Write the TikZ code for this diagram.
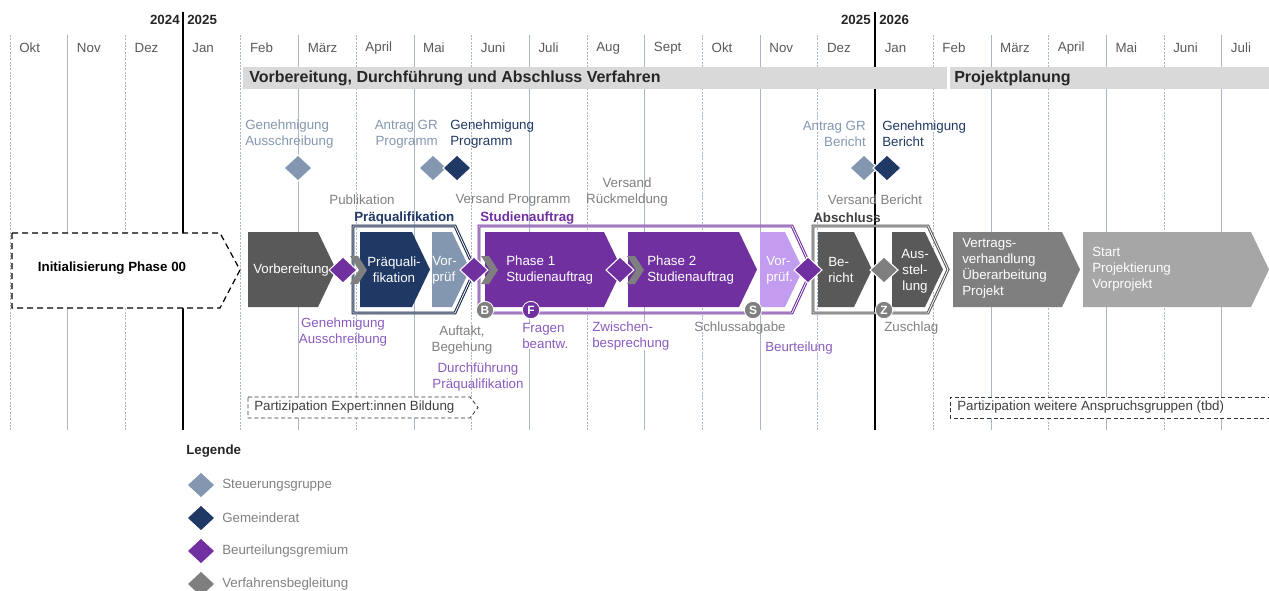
\documentclass[tikz,border=0pt]{standalone}
\usepackage{fontspec}
\setmainfont{Liberation Sans}
\usetikzlibrary{calc}
\definecolor{cgrid}{HTML}{A9B5C8}
\definecolor{cmonth}{HTML}{595959}
\definecolor{cbar}{HTML}{D9D9D9}
\definecolor{ctitle}{HTML}{262626}
\definecolor{csteel}{HTML}{8497B0}
\definecolor{cnavy}{HTML}{1F3864}
\definecolor{cpurple}{HTML}{7030A0}
\definecolor{clilac}{HTML}{C19CEF}
\definecolor{ctxtpurple}{HTML}{8A5BBE}
\definecolor{cdark}{HTML}{595959}
\definecolor{cmid}{HTML}{7F7F7F}
\definecolor{clight}{HTML}{A6A6A6}
\definecolor{cgraytxt}{HTML}{808080}
\def\monthw{57.7}
\tikzset{
  pics/phasebox/.style={
    code={%
      \fill (0,0) -- ({#1-18},0) -- (#1,37.5) -- ({#1-18},75) -- (0,75) -- cycle;
    }
  },
  pics/groupbox/.style={
    code={%
      \draw[line width=.8pt, double=white, double distance=.6pt]
        (0,0) -- ({#1-20},0) -- (#1,43.5) -- ({#1-20},87) -- (0,87) -- cycle;
    }
  },
  pics/gate/.style={
    code={%
      \filldraw[draw=white, line width=.8pt] (-14,0) -- (0,-13) -- (14,0) -- (0,13) -- cycle;
    }
  },
  pics/chevr/.style={
    code={%
      \fill (7,-14) -- (15,-14) -- (24,0) -- (15,14) -- (7,14) -- (16,0) -- cycle;
    }
  },
}

\begin{document}
\begin{tikzpicture}[
    x=0.75pt,y=-0.75pt,
    lbl/.style={font=\fontsize{10}{12}\selectfont, inner sep=0pt, align=left},
    hdr/.style={lbl, font=\fontsize{10}{12}\selectfont\bfseries},
    bighdr/.style={hdr, text=ctitle, anchor=west, font=\fontsize{12}{14}\selectfont\bfseries},
    blk/.style={lbl, text=white, anchor=west},
    month/.style={lbl, text=cmonth, anchor=west},
    gridline/.style={draw=cgrid, line width=.6pt},
    griddot/.style={gridline, line width=.5pt, dash pattern=on 1.5pt off 1pt},
    yearline/.style={draw=black, line width=2.2pt},
    badge/.style={circle, draw=white, line width=.6pt, inner sep=0pt, minimum size=13pt,
      text=white, font=\fontsize{9}{9}\selectfont\bfseries},
    partbox/.style={draw=black!80, fill=white, line width=.6pt, dash pattern=on 3pt off 2pt},
  ]
  \useasboundingbox (0,0) rectangle (1269,590);

  % month grid
  \foreach \m [count=\i from 0, evaluate=\i as \x using 10+\monthw*\i] in
    {Okt,Nov,Dez,Jan,Feb,März,April,Mai,Juni,Juli,Aug,Sept,Okt,Nov,Dez,Jan,Feb,März,April,Mai,Juni,Juli}{
    \ifodd\i
      \draw[gridline] (\x,35) -- (\x,430);
    \else
      \draw[griddot] (\x,35) -- (\x,430);
    \fi
    \node[month] (m\i) at (\x+9,48) {\m};
  }
  \draw[yearline] (183,12) -- (183,430);
  \draw[yearline] (875,12) -- (875,430);
  \node[hdr, text=ctitle, anchor=east] (y24) at (180,20) {2024};
  \node[hdr, text=ctitle, anchor=west] (y25) at (187,20) {2025};
  \node[hdr, text=ctitle, anchor=east] (y25b) at (871,20) {2025};
  \node[hdr, text=ctitle, anchor=west] (y26) at (879,20) {2026};

  % phase bars
  \fill[cbar] (243,67) rectangle (947,89);
  \fill[cbar] (950,67) rectangle (1269,89);
  \node[bighdr] (barA) at (249,78) {Vorbereitung, Durchführung und Abschluss Verfahren};
  \node[bighdr] (barB) at (954,78) {Projektplanung};

  % milestones above
  \node[lbl, text=csteel, anchor=west] (genA) at (245,134) {Genehmigung\\Ausschreibung};
  \node[lbl, text=csteel, anchor=east, align=right] (antP) at (438,134) {Antrag GR\\Programm};
  \node[lbl, text=cnavy, anchor=west] (genP) at (450,134) {Genehmigung\\Programm};
  \node[lbl, text=csteel, anchor=east, align=right] (antB) at (866,134) {Antrag GR\\Bericht};
  \node[lbl, text=cnavy, anchor=west] (genB) at (882,134) {Genehmigung\\Bericht};
  \path
    (298,168) pic[csteel]{gate}
    (433,168) pic[csteel]{gate}
    (457,168) pic[cnavy]{gate}
    (864,168) pic[csteel]{gate}
    (887,168) pic[cnavy]{gate}
  ;

  \node[lbl, text=cgraytxt] (publ) at (362,200) {Publikation};
  \node[lbl, text=cgraytxt] (versP) at (513,200) {Versand Programm};
  \node[lbl, text=cgraytxt, align=center] (versR) at (627,192) {Versand\\Rückmeldung};
  \node[lbl, text=cgraytxt] (versB) at (875,200) {Versand Bericht};

  \node[hdr, text=cnavy, anchor=west] (hPq) at (354,218) {Präqualifikation};
  \node[hdr, text=cpurple, anchor=west] (hSa) at (480,218) {Studienauftrag};
  \node[hdr, text=black!75, anchor=west] (hAb) at (813,218) {Abschluss};

  % initialisation
  \draw[fill=white, line width=.9pt, dash pattern=on 4.5pt off 3pt]
    (12,233) -- (220,233) -- (240,270) -- (220,308) -- (12,308) -- cycle;
  \node[hdr, text=black] (init) at (112,268) {Initialisierung Phase 00};

  % group frames
  \path
    (353,226) pic[cnavy!75!black]{groupbox=122}
    (479,226) pic[cpurple]{groupbox=333}
    (813,226) pic[cdark]{groupbox=135}
  ;

  % phase blocks
  \path
    (248,232) pic[cdark]{phasebox=88}
    (360,232) pic[cnavy]{phasebox=70}
    (432,232) pic[csteel]{phasebox=38}
    (485,232) pic[cpurple]{phasebox=137}
    (628,232) pic[cpurple]{phasebox=129}
    (760,232) pic[clilac]{phasebox=43}
    (818,232) pic[cdark]{phasebox=54}
    (892,232) pic[cdark]{phasebox=51}
    (953,232) pic[cmid]{phasebox=127}
    (1083,232) pic[clight]{phasebox=186}
  ;
  \node[blk] (tVorb) at (253,270) {Vorbereitung};
  \node[blk, anchor=center, align=center] (tPq) at (394,270) {Präquali-\\fikation};
  \node[blk] (tVp1) at (432,270) {Vor-\\prüf};
  \node[blk] (tPh1) at (506,270) {Phase 1\\Studienauftrag};
  \node[blk] (tPh2) at (647,270) {Phase 2\\Studienauftrag};
  \node[blk] (tVp2) at (766,270) {Vor-\\prüf.};
  \node[blk] (tBer) at (828,270) {Be-\\richt};
  \node[blk, anchor=center, align=center] (tAus) at (915,271) {Aus-\\stel-\\lung};
  \node[blk] (tVer) at (962,268) {Vertrags-\\verhandlung\\Überarbeitung\\Projekt};
  \node[blk] (tStart) at (1092,269) {Start\\Projektierung\\Vorprojekt};

  % gates in the main row
  \path
    (343,270) pic[cmid]{chevr}
    (474,270) pic[cmid]{chevr}
    (620,270) pic[cmid]{chevr}
    (343,270) pic[cpurple]{gate}
    (474,270) pic[cpurple]{gate}
    (620,270) pic[cpurple]{gate}
    (808,270) pic[cpurple]{gate}
    (884,270) pic[cmid]{gate}
  ;

  \node[badge, fill=cmid] (bB) at (485,310) {B};
  \node[badge, fill=cpurple] (bF) at (531,310) {F};
  \node[badge, fill=cmid] (bS) at (753,310) {S};
  \node[badge, fill=cmid] (bZ) at (884,310) {Z};

  % milestones below
  \node[lbl, text=ctxtpurple, align=center] (genAu) at (343,332) {Genehmigung\\Ausschreibung};
  \node[lbl, text=cgraytxt, align=center] (auft) at (462,340) {Auftakt,\\Begehung};
  \node[lbl, text=ctxtpurple, align=center] (durch) at (478,377) {Durchführung\\Präqualifikation};
  \node[lbl, text=ctxtpurple, anchor=west, fill=white] (frag) at (522,336) {Fragen\\beantw.};
  \node[lbl, text=ctxtpurple, anchor=west, fill=white] (zwis) at (592,336) {Zwischen-\\besprechung};
  \node[lbl, text=cgraytxt] (schl) at (740,328) {Schlussabgabe};
  \node[lbl, text=ctxtpurple, anchor=west] (beur) at (765,348) {Beurteilung};
  \node[lbl, text=cgraytxt, anchor=west] (zusc) at (884,328) {Zuschlag};

  % participation
  \draw[partbox] (248,397) -- (470,397) -- (478,407.5) -- (470,418) -- (248,418) -- cycle;
  \node[lbl, text=black!75, anchor=west] (part1) at (254,407.5) {Partizipation Expert:innen Bildung};
  \draw[partbox] (1272,397) -- (950,397) -- (950,418) -- (1272,418);
  \node[lbl, text=black!75, anchor=west] (part2) at (957,407.5) {Partizipation weitere Anspruchsgruppen (tbd)};

  % legend
  \node[hdr, text=black!85, anchor=west] (leg) at (186,451) {Legende};
  \foreach \c/\t [count=\k from 0] in {csteel/Steuerungsgruppe, cnavy/Gemeinderat,
      cpurple/Beurteilungsgremium, cmid/Verfahrensbegleitung}{
    \path (201,485+33*\k) pic[\c]{gate};
    \node[lbl, text=cgraytxt, anchor=west] (leg\k) at (222,485+33*\k) {\t};
  }
\end{tikzpicture}
\end{document}
